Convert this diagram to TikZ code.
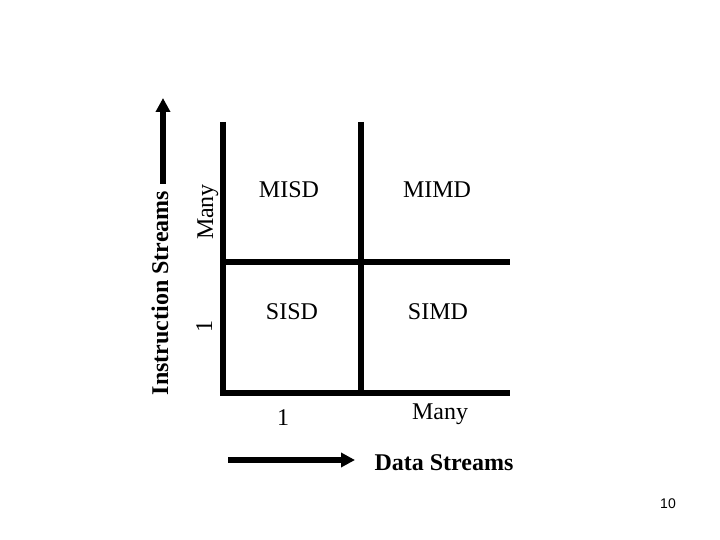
\documentclass[tikz,border=0pt]{standalone}
\usepackage{fontspec}
\setmainfont{Liberation Serif}
\newfontfamily\pagefont{Liberation Sans}
\usetikzlibrary{positioning,arrows.meta}

\begin{document}
\begin{tikzpicture}[x=1pt, y=-1pt,
        grid/.style={line width=6pt, line join=miter},
        flecha/.style={line width=5.5pt, -{Triangle[length=14pt,width=14pt]}},
        celda/.style={font=\fontsize{24}{28}\selectfont, anchor=base},
        eje/.style={font=\fontsize{24}{28}\selectfont\bfseries, anchor=base}]
        \useasboundingbox (0,0) rectangle (720,540);

        % Esquinas de la tabla
        \coordinate (tl) at (223,122);
        \coordinate (tm) at (361,122);
        \coordinate (ml) at (223,262);
        \coordinate (mr) at (510,262);
        \coordinate (bl) at (223,393);
        \coordinate (bm) at (361,393);
        \coordinate (br) at (510,393);

        % Lineas
        \draw[grid] (tl) -- (bl) -- (br);
        \draw[grid] (tm) -- (bm);
        \draw[grid] (ml) -- (mr);

        % Celdas
        \node[celda] (misd) at (289,197) {MISD};
        \node[celda] (mimd) at (437,198) {MIMD};
        \node[celda] (sisd) at (292,319) {SISD};
        \node[celda] (simd) at (438,319) {SIMD};

        % Etiquetas de los ejes
        \node[celda] (dunos) at (283,425) {1};
        \node[celda] (dmany) at (440,419) {Many};
        \node[celda, rotate=90] (iuno) at (212,326) {1};
        \node[celda, rotate=90] (imany) at (213,212) {Many};

        % Flechas
        \coordinate (dini) at (228,460);
        \coordinate (dfin) at (355,460);
        \coordinate (iini) at (163,184);
        \coordinate (ifin) at (163,98);
        \draw[flecha] (dini) -- (dfin);
        \draw[flecha] (iini) -- (ifin);
        \node[eje] (datos) at (444,470) {Data Streams};
        \node[eje, rotate=90] (instr) at (168,293) {Instruction Streams};

        % Numero de pagina
        \node[font=\pagefont\fontsize{14}{16}\selectfont, anchor=base] (pag) at (668,508) {10};
\end{tikzpicture}
\end{document}
